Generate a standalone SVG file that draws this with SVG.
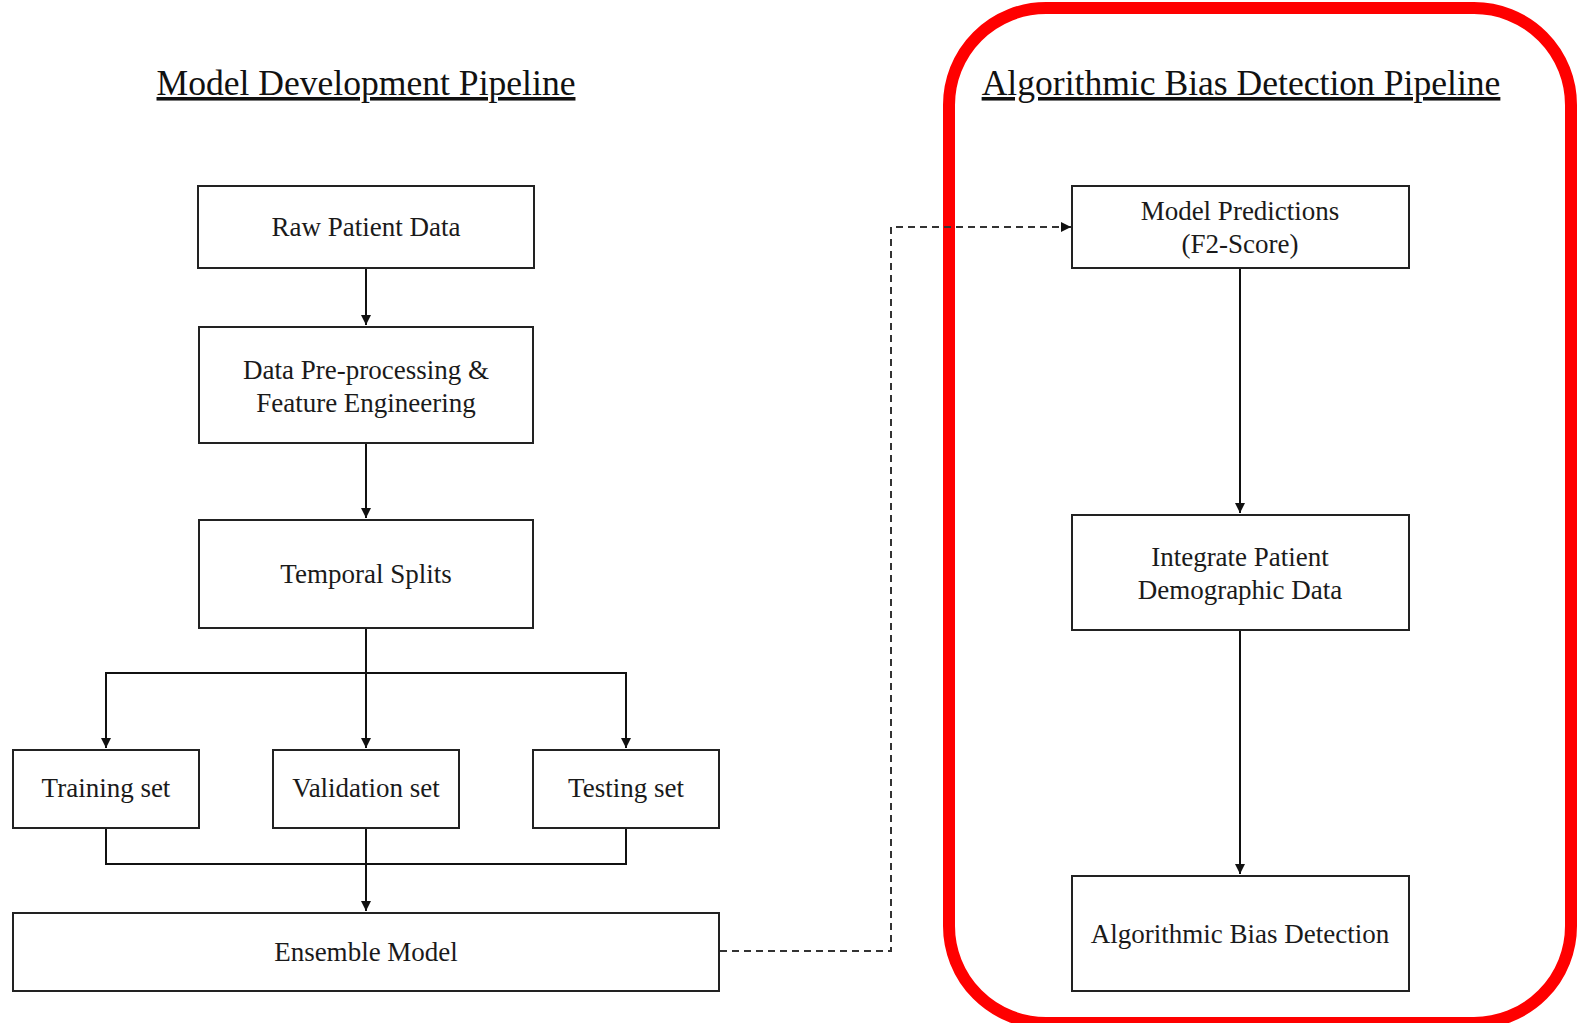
<svg xmlns="http://www.w3.org/2000/svg" width="1581" height="1023" viewBox="0 0 1581 1023">
  <style>
    .box { fill: #ffffff; stroke: #222222; stroke-width: 2; }
    .lbl { font-family: "Liberation Serif", "Times New Roman", serif; font-size: 27px; fill: #1a1a1a; text-anchor: middle; }
    .title { font-family: "Liberation Serif", "Times New Roman", serif; font-size: 35.6px; fill: #111111; text-anchor: middle; text-decoration: underline; }
    .wire { fill: none; stroke: #111111; stroke-width: 2; }
    .dash { fill: none; stroke: #333333; stroke-width: 2; stroke-dasharray: 7 5; }
  </style>
  <defs>
    <marker id="arrow" viewBox="0 0 10 10" refX="10" refY="5" markerWidth="10" markerHeight="10" markerUnits="userSpaceOnUse" orient="auto">
      <path d="M0,0 L10,5 L0,10 Z" fill="#111111"/>
    </marker>
  </defs>
  <rect width="1581" height="1023" fill="#ffffff"/>

  <!-- pipeline headings -->
  <text class="title" x="366" y="95">Model Development Pipeline</text>
  <text class="title" x="1241" y="95">Algorithmic Bias Detection Pipeline</text>

  <!-- frame around the bias detection pipeline -->
  <rect id="bias-frame" x="949" y="8" width="622" height="1015" rx="97" ry="97" fill="none" stroke="#ff0000" stroke-width="12"/>

  <!-- connectors -->
  <g id="connectors">
    <path class="wire" d="M366,268 V325" marker-end="url(#arrow)"/>
    <path class="wire" d="M366,443 V518" marker-end="url(#arrow)"/>
    <path class="wire" d="M366,628 V748" marker-end="url(#arrow)"/>
    <path class="wire" d="M106,748 V673 H626 V748" />
    <path class="wire" d="M106,673 V748" marker-end="url(#arrow)"/>
    <path class="wire" d="M626,673 V748" marker-end="url(#arrow)"/>
    <path class="wire" d="M106,828 V864 H626 V828"/>
    <path class="wire" d="M366,828 V911" marker-end="url(#arrow)"/>
    <path class="dash" d="M720,951 H891 V227 H1071" marker-end="url(#arrow)"/>
    <path class="wire" d="M1240,268 V513" marker-end="url(#arrow)"/>
    <path class="wire" d="M1240,630 V874" marker-end="url(#arrow)"/>
  </g>

  <!-- model development nodes -->
  <g id="raw-data">
    <rect class="box" x="198" y="186" width="336" height="82"/>
    <text class="lbl" x="366" y="236">Raw Patient Data</text>
  </g>
  <g id="preprocessing">
    <rect class="box" x="199" y="327" width="334" height="116"/>
    <text class="lbl" x="366" y="379">Data Pre-processing &amp;</text>
    <text class="lbl" x="366" y="412">Feature Engineering</text>
  </g>
  <g id="temporal-splits">
    <rect class="box" x="199" y="520" width="334" height="108"/>
    <text class="lbl" x="366" y="583">Temporal Splits</text>
  </g>
  <g id="training-set">
    <rect class="box" x="13" y="750" width="186" height="78"/>
    <text class="lbl" x="106" y="797">Training set</text>
  </g>
  <g id="validation-set">
    <rect class="box" x="273" y="750" width="186" height="78"/>
    <text class="lbl" x="366" y="797">Validation set</text>
  </g>
  <g id="testing-set">
    <rect class="box" x="533" y="750" width="186" height="78"/>
    <text class="lbl" x="626" y="797">Testing set</text>
  </g>
  <g id="ensemble-model">
    <rect class="box" x="13" y="913" width="706" height="78"/>
    <text class="lbl" x="366" y="961">Ensemble Model</text>
  </g>

  <!-- bias detection nodes -->
  <g id="model-predictions">
    <rect class="box" x="1072" y="186" width="337" height="82"/>
    <text class="lbl" x="1240" y="220">Model Predictions</text>
    <text class="lbl" x="1240" y="253">(F2-Score)</text>
  </g>
  <g id="demographics">
    <rect class="box" x="1072" y="515" width="337" height="115"/>
    <text class="lbl" x="1240" y="566">Integrate Patient</text>
    <text class="lbl" x="1240" y="599">Demographic Data</text>
  </g>
  <g id="bias-detection">
    <rect class="box" x="1072" y="876" width="337" height="115"/>
    <text class="lbl" x="1240" y="943">Algorithmic Bias Detection</text>
  </g>
</svg>
